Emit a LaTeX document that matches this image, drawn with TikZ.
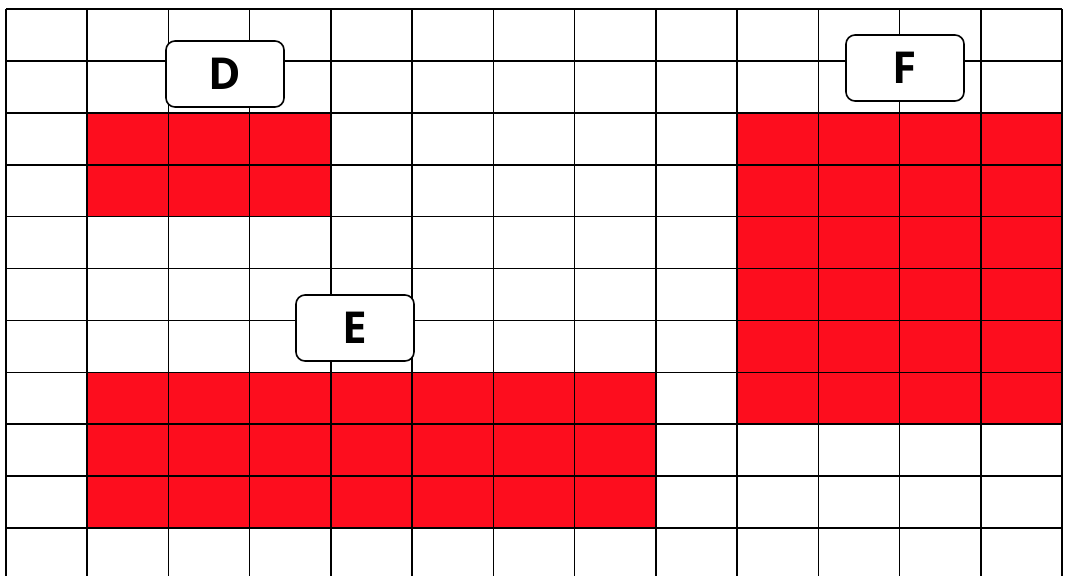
\documentclass[tikz,border=0pt]{standalone}
\usepackage{fontspec}
\setmainfont{Open Sans}
\definecolor{cellred}{RGB}{253,13,30}
\tikzset{
  gridline/.style={line width=1.6pt,black},
  labelbox/.style={draw,fill=white,line width=1.6pt,rounded corners=9pt,
    minimum width=118pt,minimum height=66pt,inner sep=0pt,
    font=\fontsize{44}{44}\selectfont\bfseries}
}
\begin{document}
\begin{tikzpicture}[x=1pt,y=-1pt]
      \useasboundingbox (0,0) rectangle (1065,576);

      % red blocks
      \fill[cellred] (88,113) rectangle (331,217);
      \fill[cellred] (738,113) rectangle (1062,425);
      \fill[cellred] (88,373) rectangle (656,528);

      % grid
      \foreach \i in {0,...,13}
        \draw[gridline] (6+81.23*\i,9) -- (6+81.23*\i,576);
      \foreach \j in {0,...,10}
        \draw[gridline] (6,9+51.9*\j) -- (1062,9+51.9*\j);

      \node[labelbox] (D) at (225,74){D};
      \node[labelbox] (F) at (905,68){F};
      \node[labelbox] (E) at (355,328){E};
    \end{tikzpicture}
\end{document}
